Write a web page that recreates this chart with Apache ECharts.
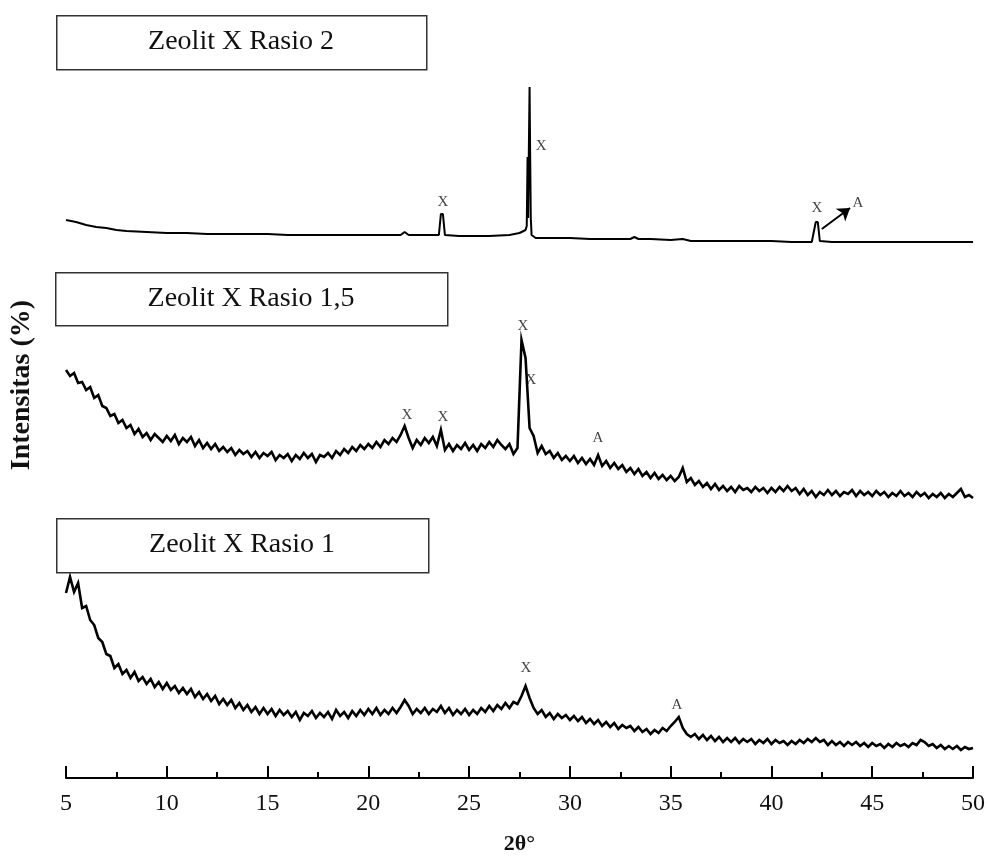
<!DOCTYPE html>
<html>
<head>
<meta charset="utf-8">
<script src="https://cdn.jsdelivr.net/npm/echarts@6/dist/echarts.min.js"></script>
<style>html,body{margin:0;padding:0;background:#fff}#c{width:990px;height:856px}</style>
</head>
<body>
<div id="c"></div>
<script>
// 2θ sampling grid (degrees) for the noisy patterns
const angleStart = 5, angleStep = 0.2, angleCount = 226;
const angles = [];
for (let i = 0; i < angleCount; i++) angles.push(+(angleStart + i * angleStep).toFixed(1));

// Zeolit X Rasio 2 (stacked offset intensity, arbitrary units)
const angles2 = [5.0,5.5,6.0,6.5,7.0,7.5,8.0,9.0,10,11,12,13,14,15,16,17,18,19,20,21,21.6,21.8,22.0,23.0,23.5,23.6,23.7,23.8,24.5,25,26,27,27.5,27.8,27.86,27.9,27.93,27.96,28.0,28.03,28.06,28.1,28.3,29,30,31,32,33,33.2,33.4,34,35,35.6,36,37,38,39,40,41,42,42.2,42.3,42.4,43,44,45,46,47,48,49,50];
const rasio2 = [558,556,553,551,550,548,547,546,545,545,544,544,544,544,543,543,543,543,543,543,543,546,543,543,543,564,564,543,542,542,542,543,545,548,552,621,560,621,691,621,560,543,540,540,540,539,539,539,541,539,539,538,539,537,537,537,537,537,536,536,556,556,537,536,536,536,536,536,536,536,536];

// Zeolit X Rasio 1,5
const rasio15 = [
408,402,405,395,396, 388,391,380,383,372, 370,362,364,355,358, 350,353,344,349,341, 345,338,344,340,336,
342,337,343,334,340, 336,341,332,338,330, 335,329,334,327,331, 326,330,323,328,324, 327,321,326,320,325,
322,326,318,323,320, 324,317,323,319,325, 320,324,316,323,321, 325,320,327,323,329, 325,331,327,333,329,
334,330,336,331,338, 334,340,336,343,352, 340,330,338,333,340, 335,341,332,348,328, 334,327,333,329,335,
328,333,327,334,330, 336,331,338,333,329, 334,324,330,438,420, 350,342,325,332,324, 327,320,325,318,322,
317,322,315,320,314, 319,313,323,312,317, 310,315,309,313,306, 310,304,309,302,306, 300,305,299,303,298,
302,297,301,310,296, 300,293,297,291,295, 289,294,288,292,287, 291,286,292,288,290, 286,291,287,290,285,
290,286,291,287,292, 287,290,284,289,283, 287,281,286,283,288, 283,287,282,286,284, 288,282,287,283,286,
282,287,283,286,281, 285,282,287,282,285, 281,286,282,285,280, 284,281,285,280,284, 281,285,289,281,283,
280];

// Zeolit X Rasio 1
const rasio1 = [
185,201,186,195,170, 172,158,153,140,136, 124,122,110,114,104, 108,100,106,97,101, 94,99,91,96,89,
95,88,92,85,90, 84,89,81,86,79, 84,77,82,74,79, 73,78,70,75,68, 73,66,71,64,70,
64,69,62,68,63, 67,61,66,58,65, 62,67,60,65,61, 66,59,68,62,66, 60,67,62,68,63,
69,64,70,63,68, 64,70,65,71,78, 72,64,69,65,70, 64,69,66,72,65, 70,63,68,64,69,
63,68,64,70,66, 72,67,73,69,75, 70,76,74,82,92, 80,70,64,68,61, 65,59,64,60,63,
58,62,57,61,55, 59,54,58,52,56, 51,55,49,53,50, 52,47,51,46,49, 44,48,45,50,47,
52,56,61,50,44, 41,44,39,43,38, 42,37,41,36,40, 36,40,35,39,36, 39,34,38,35,39,
34,38,35,37,33, 37,34,38,35,39, 36,40,36,38,33, 37,33,36,32,36, 33,36,32,35,31,
35,32,34,30,34, 31,35,32,34,31, 35,33,38,36,32, 34,30,33,29,32, 29,32,28,31,29,
30];

// Phase labels: [2θ, height, text]
const peakLabels = [
  [28.02,706,'X'],[28.57,632,'X'],[23.70,576,'X'],[42.26,570,'X'],[44.29,575,'A'],
  [21.92,363,'X'],[23.70,361,'X'],[27.67,452,'X'],[28.07,398,'X'],[31.39,340,'A'],
  [27.82,110,'X'],[35.31,73,'A']
];
const arrowLine = [[42.5,549],[43.9,570]];

const sampleNames = ['Zeolit X Rasio 2','Zeolit X Rasio 1,5','Zeolit X Rasio 1'];
const xTicks = [5,10,15,20,25,30,35,40,45,50];

const serif = 'Liberation Serif';
const chart = echarts.init(document.getElementById('c'));

function boxGroup(x, y, w, h, text) {
  return [
    {type:'rect', left:x, top:y, shape:{x:0,y:0,width:w,height:h}, style:{fill:'#fff', stroke:'#333', lineWidth:1.5}, z:10},
    {type:'text', x:x + w/2, y:y + h/2, style:{text:text, fill:'#111', font:'28px "' + serif + '"', textAlign:'center', textVerticalAlign:'middle'}, z:11}
  ];
}

const noisyStyle = {color:'#000', width:2.6, join:'miter'};

chart.setOption({
  animation:false,
  backgroundColor:'#fff',
  grid:{left:66, right:17, top:78, bottom:78, containLabel:false, outerBoundsMode:'none'},
  xAxis:{
    type:'value', min:5, max:50, interval:5,
    axisLine:{lineStyle:{color:'#000', width:2}},
    axisTick:{inside:true, length:12, lineStyle:{color:'#000', width:2}},
    minorTick:{show:true, splitNumber:2, length:6, lineStyle:{color:'#000', width:2}},
    axisLabel:{color:'#111', fontFamily:serif, fontSize:24, margin:14,
      formatter:v => xTicks.includes(v) ? String(v) : ''},
    splitLine:{show:false},
    name:'2θ°', nameLocation:'middle', nameGap:55,
    nameTextStyle:{color:'#111', fontFamily:serif, fontSize:22, fontWeight:'bold'}
  },
  yAxis:{type:'value', min:0, max:700, show:false},
  graphic:[
    ...boxGroup(56, 15, 370, 54, sampleNames[0]),
    ...boxGroup(55, 272, 392, 53, sampleNames[1]),
    ...boxGroup(56, 518, 372, 54, sampleNames[2]),
    {type:'text', x:22, y:385, rotation:Math.PI/2,
      style:{text:'Intensitas (%)', fill:'#111', font:'bold 28px "' + serif + '"', textAlign:'center', textVerticalAlign:'middle'}}
  ],
  series:[
    {type:'line', name:sampleNames[0], data:angles2.map((a,i)=>[a, rasio2[i]]), showSymbol:false, symbol:'none', lineStyle:{color:'#000', width:2},
      markLine:{silent:true, symbol:['none','arrow'], symbolSize:12, label:{show:false}, lineStyle:{color:'#000', width:2, type:'solid'},
        data:[[{coord:arrowLine[0]},{coord:arrowLine[1]}]]}},
    {type:'line', name:sampleNames[1], data:angles.map((a,i)=>[a, rasio15[i]]), showSymbol:false, symbol:'none', lineStyle:noisyStyle},
    {type:'line', name:sampleNames[2], data:angles.map((a,i)=>[a, rasio1[i]]), showSymbol:false, symbol:'none', lineStyle:noisyStyle},
    {type:'scatter', data:peakLabels.map(p=>({value:[p[0],p[1]], name:p[2]})), symbolSize:1, itemStyle:{color:'rgba(0,0,0,0)'}, silent:true,
      label:{show:true, position:'inside', formatter:p=>p.name, color:'#111', fontFamily:serif, fontSize:15}}
  ]
});
</script>
</body>
</html>
